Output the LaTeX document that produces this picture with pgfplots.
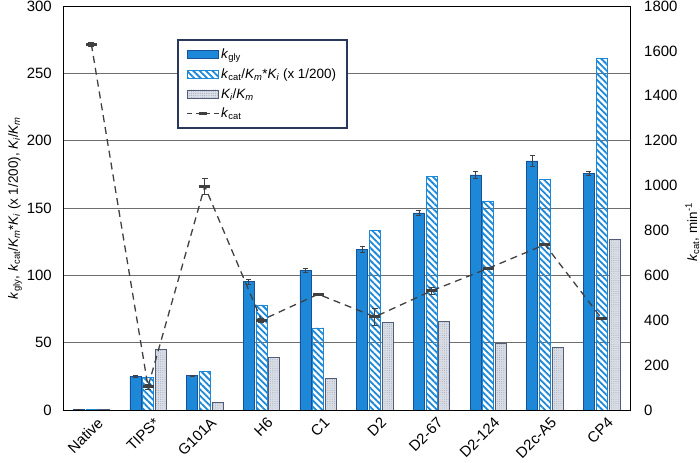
\documentclass[border=0pt]{standalone}
\usepackage{pgfplots}
\pgfplotsset{compat=1.18}
\usepackage{fontspec}
\setmainfont{Liberation Sans}
\usetikzlibrary{patterns.meta}
\definecolor{kblue}{RGB}{30,136,216}
\definecolor{kedge}{RGB}{25,80,150}
\definecolor{kgray}{RGB}{218,222,230}
\definecolor{kdot}{RGB}{150,158,175}
\definecolor{kgedge}{RGB}{80,92,120}
\definecolor{kline}{RGB}{64,64,64}
\definecolor{legedge}{RGB}{40,55,90}
\definecolor{gridc}{RGB}{110,110,110}
\begin{document}
\begin{tikzpicture}
\pgfplotsset{
  every axis/.append style={
    scale only axis, width=567bp, height=404bp,
    xmin=-0.5, xmax=9.5,
    tick style={draw=none},
    /pgf/number format/assume math mode=true,
    /pgf/number format/1000 sep={},
    tick label style={font=\fontsize{15}{17}\selectfont},
  }
}
\begin{axis}[
  ymin=0, ymax=300,
  ytick={0,50,...,300},
  xtick={0,...,9},
  xticklabels={Native,TIPS*,G101A,H6,C1,D2,D2-67,D2-124,D2c-A5,CP4},
  xticklabel style={rotate=45, anchor=north east, inner sep=0pt, yshift=-8bp, xshift=-1bp},
  yticklabel style={inner sep=0pt, xshift=-11bp},
  ymajorgrids, major grid style={gridc, line width=0.9pt},
  axis line style={black, line width=0.8pt},
  ylabel={\textit{k}\textsubscript{gly}, \textit{k}\textsubscript{cat}/\textit{K\textsubscript{m}}*\textit{K\textsubscript{i}} (x 1/200),  \textit{K\textsubscript{i}}/\textit{K\textsubscript{m}}},
  every axis y label/.style={at={(axis description cs:-0.0847,0.5)}, rotate=90, anchor=center, inner sep=0pt, font=\fontsize{13.5}{15}\selectfont},
  legend style={at={(0.201,0.918)}, anchor=north west, draw=legedge, line width=1.6pt,
    font=\fontsize{13.5}{15}\selectfont, row sep=4.5pt, inner xsep=9pt, inner ysep=7pt,
    legend cell align=left, /tikz/every even column/.append style={column sep=7pt}},
  legend image code/.code={\draw[#1] (0cm,-0.14cm) rectangle (1.1cm,0.14cm);},
]
\addplot[ybar, bar width=11bp, bar shift=0pt, fill=kblue, draw=kedge, line width=0.6pt,
  error bars/.cd, y dir=both, y explicit,
  error bar style={kline, line width=0.7pt}, error mark options={kline, rotate=90, mark size=2.5pt, line width=0.7pt}]
  coordinates {(-0.224,0.4) +- (0,0) (0.776,25.2) +- (0,0.6) (1.776,25.5) +- (0,0.3) (2.776,95.2) +- (0,2)
  (3.776,103.9) +- (0,1.6) (4.776,119.2) +- (0,2) (5.776,146.4) +- (0,2) (6.776,174.6) +- (0,2.5)
  (7.776,185.0) +- (0,4) (8.776,175.6) +- (0,1.5)};
\addlegendentry{\textit{k}\textsubscript{gly}}
\addplot[ybar, bar width=11bp, bar shift=0pt, draw=kblue, line width=0.6pt,
  pattern={Lines[angle=-45, distance=4.5bp, line width=1.8bp]}, pattern color=kblue]
  coordinates {(0,0.4) (1,24) (2,28.7) (3,78.1) (4,61) (5,133.3) (6,173.3) (7,155.3) (8,171.1) (9,260.9)};
\addlegendentry{\textit{k}\textsubscript{cat}/\textit{K\textsubscript{m}}*\textit{K\textsubscript{i}} (x 1/200)}
\addplot[ybar, bar width=11bp, bar shift=0pt, fill=kgray, draw=kgedge, line width=0.6pt,
  postaction={pattern={Dots[distance=2.2bp, radius=0.45bp]}, pattern color=kdot}]
  coordinates {(0.224,0.2) (1.224,45.2) (2.224,5.4) (3.224,39.3) (4.224,23.5) (5.224,64.8) (6.224,65.5) (7.224,49.5) (8.224,46.2) (9.224,126.9)};
\addlegendentry{\textit{K\textsubscript{i}}/\textit{K\textsubscript{m}}}
\addlegendimage{legend image code/.code={
  \draw[kline, line width=1.2pt, dash pattern=on 5bp off 4bp] (0cm,0cm) -- (1.1cm,0cm);
  \draw[kline, line width=3pt] (0.4cm,0cm) -- (0.7cm,0cm);}}
\addlegendentry{\textit{k}\textsubscript{cat}}
\coordinate (ll) at (rel axis cs:0,0);
\coordinate (ur) at (rel axis cs:1,1);
\end{axis}
\begin{axis}[
  ymin=0, ymax=1800,
  ytick={0,200,...,1800},
  axis x line=none,
  axis y line*=right,
  axis line style={draw=none},
  yticklabel style={inner sep=0pt, xshift=14bp, anchor=west},
  ylabel={\textit{k}\textsubscript{cat}, min\textsuperscript{-1}},
  every axis y label/.style={at={(axis description cs:1.11,0.44)}, rotate=90, anchor=center, inner sep=0pt, font=\fontsize{13.5}{15}\selectfont},
]
\addplot[kline, line width=1.3pt, dash pattern=on 7bp off 5bp,
  mark=-, mark size=5.5bp, mark options={solid, line width=3.2pt},
  error bars/.cd, y dir=both, y explicit,
  error bar style={solid, kline, line width=0.8pt},
  error mark options={solid, kline, rotate=90, mark size=3bp, line width=0.8pt}]
  coordinates {(0,1630) +- (0,10) (1,104) +- (0,10) (2,997) +- (0,36) (3,400) +- (0,8)
  (4,516) +- (0,5) (5,415) +- (0,39) (6,531) +- (0,15) (7,631) +- (0,5)
  (8,737) +- (0,5) (9,408) +- (0,5)};
\end{axis}
\path ([shift={(-63bp,-53bp)}]ll) rectangle ([shift={(70bp,6bp)}]ur);
\end{tikzpicture}
\end{document}
